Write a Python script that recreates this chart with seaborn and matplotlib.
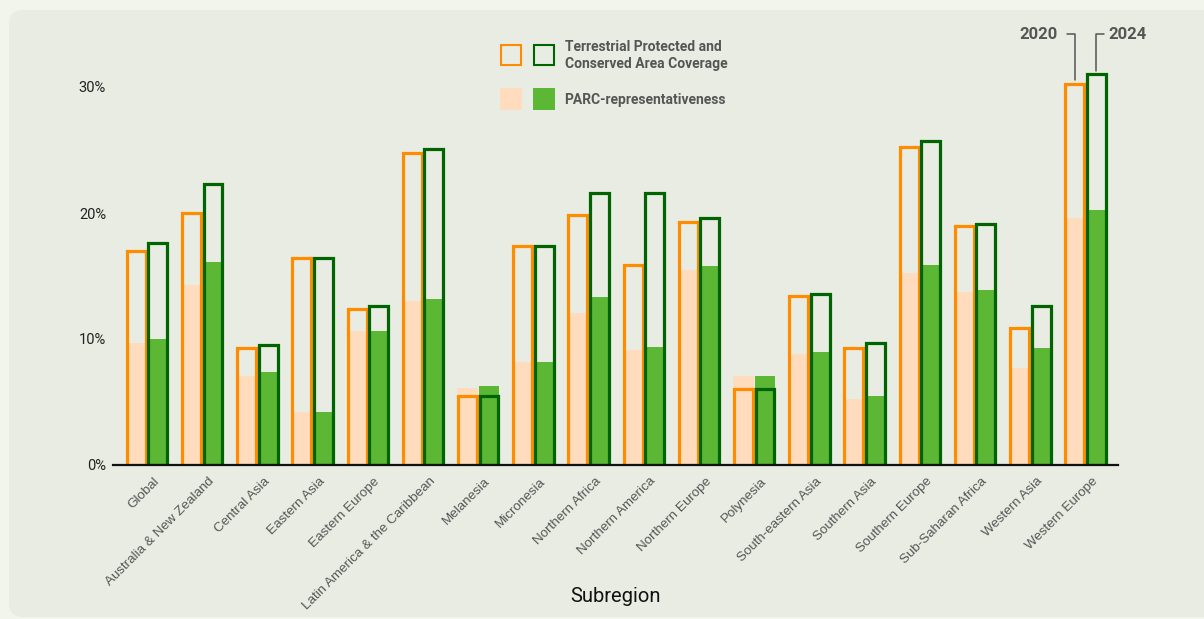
import matplotlib
matplotlib.use("Agg")
import matplotlib.pyplot as plt
import numpy as np
import pandas as pd
import seaborn as sns
from matplotlib.patches import Rectangle, FancyBboxPatch
from matplotlib.transforms import IdentityTransform, ScaledTranslation

# ---------------- data ----------------
regions = ["Global", "Australia & New Zealand", "Central Asia", "Eastern Asia",
           "Eastern Europe", "Latin America & the Caribbean", "Melanesia",
           "Micronesia", "Northern Africa", "Northern America", "Northern Europe",
           "Polynesia", "South-eastern Asia", "Southern Asia", "Southern Europe",
           "Sub-Saharan Africa", "Western Asia", "Western Europe"]
years = ["2020", "2024"]
coverage_2020 = [17.0, 20.0, 9.25, 16.4, 12.4, 24.8, 5.5, 17.4, 19.85, 15.9,
                 19.25, 6.0, 13.4, 9.25, 25.2, 19.0, 10.85, 30.2]
coverage_2024 = [17.6, 22.3, 9.5, 16.4, 12.6, 25.1, 5.5, 17.4, 21.55, 21.55,
                 19.6, 6.0, 13.55, 9.7, 25.7, 19.1, 12.6, 31.0]
parc_2020 = [9.7, 14.3, 7.1, 4.2, 10.6, 13.0, 6.1, 8.2, 12.1, 9.15,
             15.5, 7.1, 8.8, 5.2, 15.2, 13.7, 7.7, 19.6]
parc_2024 = [10.0, 16.1, 7.4, 4.2, 10.6, 13.2, 6.3, 8.2, 13.3, 9.4,
             15.8, 7.1, 9.0, 5.5, 15.9, 13.9, 9.3, 20.2]
y_ticks = [0, 10, 20, 30]
y_tick_labels = ["0%", "10%", "20%", "30%"]
legend_cov_label = "Terrestrial Protected and\nConserved Area Coverage"
legend_parc_label = "PARC-representativeness"
x_title = "Subregion"

df = pd.DataFrame({
    "Subregion": regions * 2,
    "Year": [years[0]] * len(regions) + [years[1]] * len(regions),
    "Coverage": coverage_2020 + coverage_2024,
    "PARC": parc_2020 + parc_2024,
})

# ---------------- style ----------------
W, H = 1204, 619
ORANGE, DKGREEN = "#ff8c00", "#006400"
PEACH, GREEN = "#ffdcbd", "#5cb734"
GREY = "#555555"

sns.set_theme(style="white")
plt.rcParams["font.family"] = ["Roboto", "DejaVu Sans"]

fig = plt.figure(figsize=(W / 100, H / 100), dpi=100, facecolor="#f1f5ec")
panel = FancyBboxPatch((9, 2), 1260, 607, boxstyle="round,pad=0,rounding_size=14",
                       transform=IdentityTransform(), facecolor="#e9ece3",
                       edgecolor="none", zorder=-5)
fig.add_artist(panel)

ax = fig.add_axes([113 / W, (H - 465) / H, (1118 - 113) / W, (465 - 68.1) / H])
ax.set_facecolor("none")

sns.barplot(data=df, x="Subregion", y="PARC", hue="Year", order=regions,
            hue_order=years, palette=[PEACH, GREEN], saturation=1, width=0.78,
            gap=0.06, linewidth=0, errorbar=None, legend=False, ax=ax)
sns.barplot(data=df, x="Subregion", y="Coverage", hue="Year", order=regions,
            hue_order=years, palette=[ORANGE, DKGREEN], saturation=1, width=0.78,
            gap=0.12, fill=False, linewidth=2.3, errorbar=None, legend=False, ax=ax)

ax.set_xlim(-0.616, len(regions) - 1 + 0.589)
ax.set_ylim(0, 31.5)
for s in ["left", "right", "top"]:
    ax.spines[s].set_visible(False)
ax.spines["bottom"].set_color("#111111")
ax.spines["bottom"].set_linewidth(1.6)
ax.tick_params(axis="both", length=0)
ax.tick_params(axis="y", pad=5)
ax.tick_params(axis="x", pad=7.5)
ax.set_yticks(y_ticks, y_tick_labels, fontsize=10.5, color="#222222")
ax.set_xticks(range(len(regions)), regions, rotation=45, ha="right", va="top",
              rotation_mode="anchor", fontsize=9.6, color=GREY,
              family=["Liberation Sans", "DejaVu Sans"])
for lab in ax.get_xticklabels():
    lab.set_transform(lab.get_transform() + ScaledTranslation(6 / 100, 0, fig.dpi_scale_trans))
ax.set_ylabel("")
ax.set_xlabel(x_title, fontsize=14.5, color="#111111")
ax.xaxis.set_label_coords(0.5, -0.332)
ax.xaxis.label.set_va("center")

# ---------------- year annotations on last group ----------------
wi = len(regions) - 1
half = 0.78 / 4
y_top = 34.2
tick = 0.145
xo, xg = wi - half, wi + half
ax.plot([xo, xo, xo - tick], [coverage_2020[wi] + 0.35, y_top, y_top], color=GREY,
        lw=1.1, clip_on=False)
ax.plot([xg, xg, xg + tick], [coverage_2024[wi] + 0.27, y_top, y_top], color=GREY,
        lw=1.1, clip_on=False)
ax.text(xo - tick - 0.16, y_top - 0.05, years[0], ha="right", va="center", fontsize=12,
        fontweight="bold", color=GREY, clip_on=False)
ax.text(xg + tick + 0.07, y_top - 0.05, years[1], ha="left", va="center", fontsize=12,
        fontweight="bold", color=GREY, clip_on=False)

# ---------------- legend ----------------
def px_rect(x0, y0, x1, y1, **kw):
    return Rectangle((x0, H - y1), x1 - x0, y1 - y0, transform=IdentityTransform(), **kw)

fig.add_artist(px_rect(501, 45, 521, 65, facecolor="none", edgecolor=ORANGE, lw=1.5))
fig.add_artist(px_rect(534, 45, 554, 65, facecolor="none", edgecolor=DKGREEN, lw=1.5))
fig.add_artist(px_rect(500, 88, 522, 110, facecolor=PEACH, edgecolor="none"))
fig.add_artist(px_rect(533, 88, 555, 110, facecolor=GREEN, edgecolor="none"))
fig.text(565 / W, 1 - 55.5 / H, legend_cov_label, ha="left", va="center", fontsize=10,
         fontweight="bold", color=GREY, linespacing=1.2)
fig.text(564 / W, 1 - 100 / H, legend_parc_label, ha="left", va="center", fontsize=10,
         fontweight="bold", color=GREY)

fig.savefig("out.png", dpi=100, facecolor=fig.get_facecolor())
